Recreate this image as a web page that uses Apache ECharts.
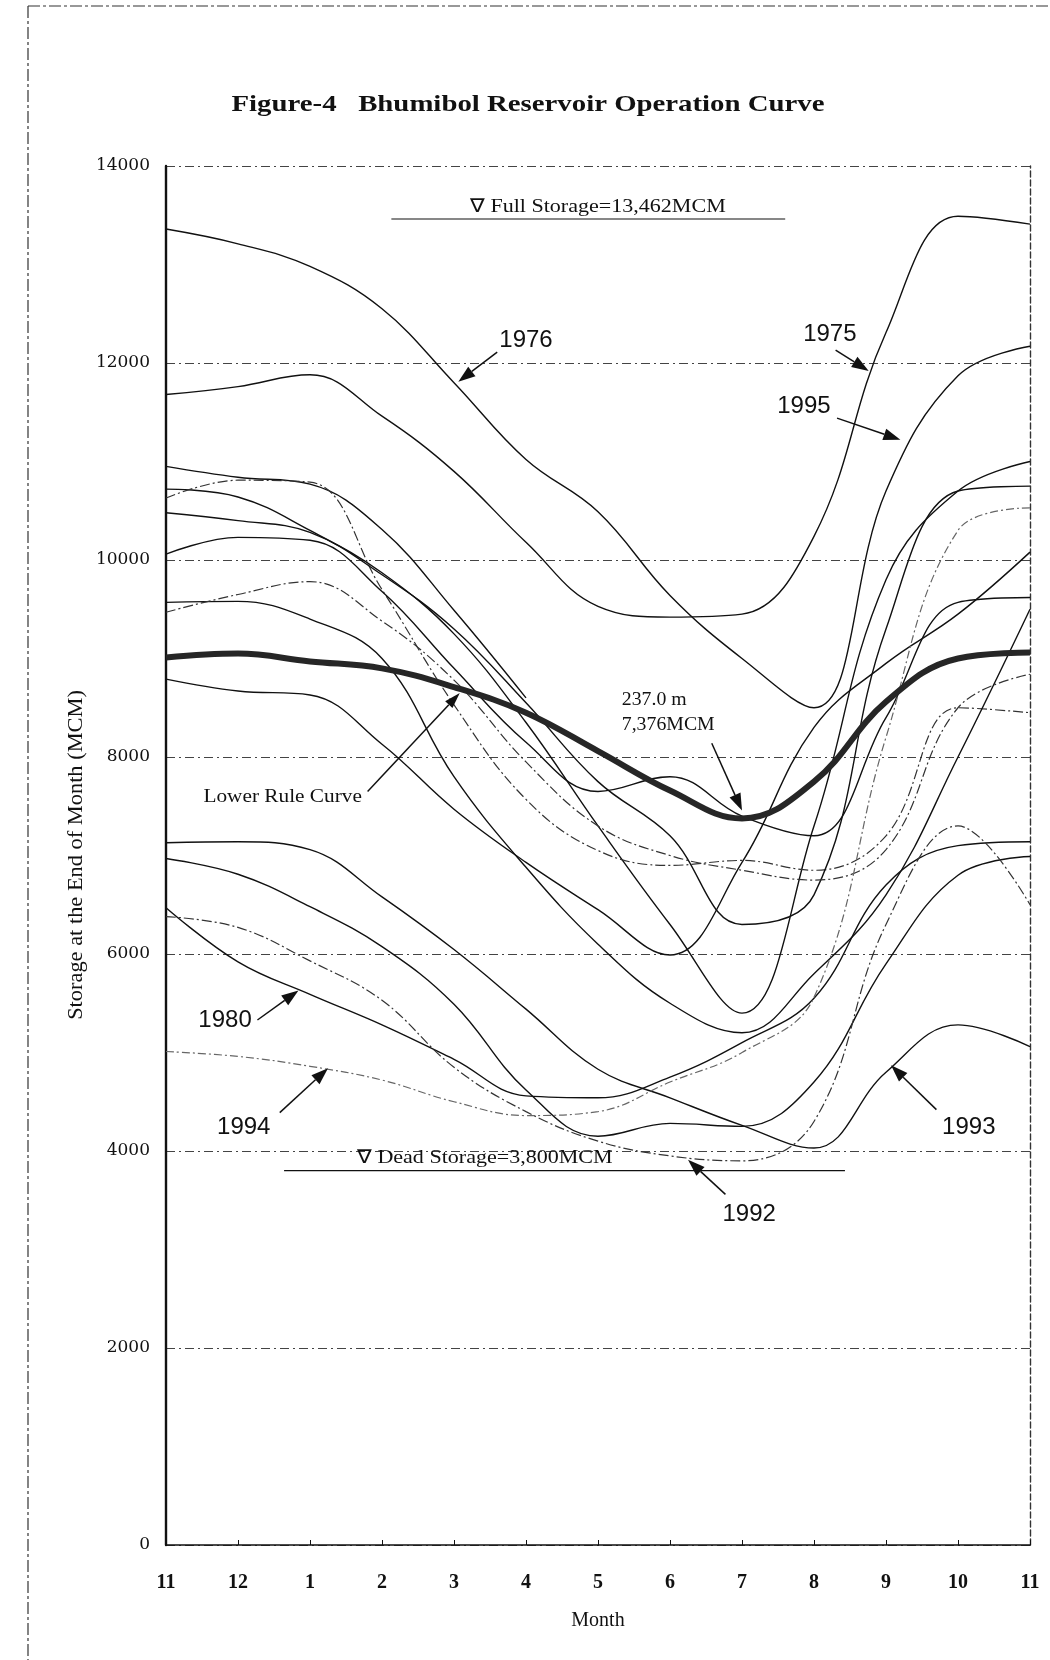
<!DOCTYPE html>
<html><head><meta charset="utf-8">
<script src="https://cdn.jsdelivr.net/npm/echarts/dist/echarts.min.js"></script>
<style>html,body{margin:0;padding:0;background:#fff}#c{width:1050px;height:1660px}</style>
</head><body><div id="c"></div>
<script>
// ---- data ----
const months = ['11','12','1','2','3','4','5','6','7','8','9','10','11'];
const yTickValues = [0,2000,4000,6000,8000,10000,12000,14000];
const ruleCurve = [9010, 9050, 8970, 8900, 8710, 8450, 8060, 7660, 7376, 7750, 8560, 9000, 9060];
const y1976 = [13360, 13210, 12980, 12550, 11800, 11020, 10490, 9640, 9000, 8500, 10700, 11870, 12170];
const y1975 = [11680, 11760, 11880, 11460, 10900, 10180, 9530, 9420, 9450, 10240, 12310, 13490, 13410];
const lineA = [10950, 10840, 10770, 10310, 9490, 8600];
const lineB = [10720, 10640, 10300, 9870, 9250, 8350, 7300, 6300, 5400, 7300, 9800, 10700, 11000];
const lineC = [10630, 10810, 10790, 9700, 8530, 7570, 7050, 6900, 6950, 6850, 7200, 8500, 8450];
const lineD = [10480, 10400, 10280, 9850, 9300, 8550, 7750, 7200, 6300, 6600, 9300, 10700, 10750];
const lineE = [10060, 10230, 10200, 9680, 8900, 8150, 7650, 7800, 7400, 7200, 8400, 9570, 9620];
const lineF = [9570, 9580, 9400, 9000, 7800, 6880, 6100, 5500, 5200, 5800, 6600, 8000, 9500];
const lineG = [9470, 9650, 9780, 9380, 8780, 7950, 7300, 7000, 6850, 6750, 7060, 8500, 8840];
const lineH = [8790, 8670, 8630, 8130, 7470, 6930, 6450, 5990, 6930, 8300, 8950, 9450, 10080];
const y1993 = [7130, 7140, 7060, 6580, 6045, 5440, 4830, 4540, 4260, 4030, 4800, 5280, 5060];
const lineJ = [6970, 6810, 6480, 6075, 5490, 4620, 4150, 4280, 4250, 4700, 5900, 6800, 6990];
const y1980 = [6470, 5920, 5590, 5280, 4930, 4560, 4540, 4750, 5100, 5550, 6700, 7100, 7140];
const y1992 = [6380, 6270, 5930, 5530, 4850, 4400, 4100, 3950, 3900, 4300, 6300, 7300, 6500];
const y1994 = [5010, 4960, 4860, 4720, 4500, 4360, 4400, 4700, 5000, 5560, 8200, 10300, 10530];
const fullStorage = 13462;
const deadStorage = 3800;
const ruleMin = 7376;

// ---- styles ----
const SOLID = {color:'#111', width:1.4, type:'solid'};
const DASH = {color:'#333', width:1.2, type:[10,3,2,3]};
const GREY = {color:'#666', width:1.2, type:[8,3,2,3]};
const seriesList = [
  ['1976', y1976, SOLID], ['1975', y1975, SOLID], ['A', lineA, SOLID],
  ['B', lineB, SOLID], ['C', lineC, DASH], ['D', lineD, SOLID], ['E', lineE, SOLID],
  ['F', lineF, SOLID], ['G', lineG, DASH], ['H', lineH, SOLID], ['1993', y1993, SOLID],
  ['J', lineJ, SOLID], ['1980', y1980, SOLID], ['1992', y1992, DASH], ['1994', y1994, GREY]
];
const toPairs = arr => arr.map((v,i)=>[i,v]);

const series = seriesList.map(([name, arr, st]) => ({
  name, type:'line', data: toPairs(arr), smooth:0.4, symbol:'none',
  lineStyle: st, z: 3, silent:true, animation:false
}));
series.push({name:'Lower Rule Curve', type:'line', data: toPairs(ruleCurve), smooth:0.4, symbol:'none',
  lineStyle:{color:'#262626', width:6}, z:4, silent:true, animation:false});

const SERIF = '"Liberation Serif","Times New Roman",serif';
const SANS = '"Liberation Sans",Arial,sans-serif';

const chart = echarts.init(document.getElementById('c'), null, {renderer:'canvas'});
chart.setOption({
  backgroundColor:'#fff',
  animation:false,
  grid:{left:166, right:20, top:166, bottom:115, containLabel:false},
  xAxis:{type:'value', min:0, max:12, interval:1,
    name:'Month', nameLocation:'middle', nameGap:66,
    nameTextStyle:{fontFamily:SERIF, fontSize:20, color:'#111'},
    axisLine:{show:true, lineStyle:{color:'#111', width:1.6}},
    axisTick:{show:true, inside:true, length:5, lineStyle:{color:'#111'}},
    axisLabel:{formatter: v => months[v], fontFamily:SERIF, fontSize:20, fontWeight:'bold', color:'#111', margin:28},
    splitLine:{show:false}},
  yAxis:[{type:'value', min:0, max:14000, interval:2000,
    axisLine:{show:true, lineStyle:{color:'#111', width:2.4}},
    axisTick:{show:false},
    axisLabel:{formatter: v => yTickValues.includes(v) ? String(v) : '', fontFamily:'"DejaVu Serif",serif', fontSize:17, color:'#111', margin:16},
    splitLine:{show:true, lineStyle:{color:'#444', width:1, type:[9,4,2,4]}}},
   {type:'value', min:0, max:14000, interval:2000, position:'right',
    axisLine:{show:true, lineStyle:{color:'#333', width:1.4, type:[6,3]}},
    axisTick:{show:false}, axisLabel:{show:false}, splitLine:{show:false}}],
  series
});

// ---- annotations (layout in data units) ----
const arrowNotes = [
  {text:'1976', at:[5.0,12230], from:[4.6,12110], to:[4.06,11810]},
  {text:'1975', at:[9.22,12290], from:[9.3,12130], to:[9.76,11920]},
  {text:'1995', at:[8.86,11560], from:[9.32,11440], to:[10.2,11220]},
  {text:'1980', at:[0.82,5330], from:[1.27,5330], to:[1.84,5630]},
  {text:'1994', at:[1.08,4240], from:[1.58,4390], to:[2.25,4840]},
  {text:'1993', at:[11.15,4240], from:[10.7,4420], to:[10.07,4870]},
  {text:'1992', at:[8.1,3360], from:[7.77,3560], to:[7.25,3910]}
];
const P = p => chart.convertToPixel({gridIndex:0}, p);
const g = [];
function arrow(a, b, len, hw) {
  const A = P(a), B = P(b);
  const dx = B[0]-A[0], dy = B[1]-A[1], L = Math.hypot(dx,dy);
  const ux = dx/L, uy = dy/L, nx = -uy, ny = ux;
  const bx = B[0]-ux*len, by = B[1]-uy*len;
  g.push({type:'line', shape:{x1:A[0], y1:A[1], x2:bx, y2:by}, style:{stroke:'#111', lineWidth:1.5}, z:20});
  g.push({type:'polygon', shape:{points:[[B[0],B[1]],[bx+nx*hw,by+ny*hw],[bx-nx*hw,by-ny*hw]]}, style:{fill:'#111'}, z:20});
}
function textAt(t, x, y, font, align, sx, rot) {
  g.push({type:'text', x, y, z:21, scaleX: sx||1, rotation: rot||0,
    style:{text:t, font, fill:'#111', textAlign:align||'center', textVerticalAlign:'middle', align:align||'center', verticalAlign:'middle'}});
}
function text(t, p, font, align, sx) { const q = P(p); textAt(t, q[0], q[1], font, align, sx); }
arrowNotes.forEach(n => { arrow(n.from, n.to, 17, 6); text(n.text, n.at, '24px '+SANS); });
// lower rule curve
arrow([2.8,7650], [4.08,8650], 16, 5);
text('Lower Rule Curve', [1.62,7590], '19px '+SERIF, 'center', 1.12);
// min point
text('237.0 m', [6.33,8580], '18px '+SERIF, 'left', 1.1);
text('7,376MCM', [6.33,8320], '18px '+SERIF, 'left', 1.1);
arrow([7.58,8140], [8.0,ruleMin+80], 17, 6);
// full / dead storage
function hline(v, i1, i2) {
  const A = P([i1, v]), B = P([i2, v]);
  g.push({type:'line', shape:{x1:A[0], y1:A[1], x2:B[0], y2:B[1]}, style:{stroke:'#111', lineWidth:1.2}, z:20});
}
hline(fullStorage, 3.13, 8.6);
text('\u2207 Full Storage=13,462MCM', [4.22,fullStorage+120], '19px '+SERIF, 'left', 1.16);
hline(deadStorage, 1.64, 9.43);
text('\u2207 Dead Storage=3,800MCM', [2.65,deadStorage+125], '19px '+SERIF, 'left', 1.16);
// title
textAt('Figure-4   Bhumibol Reservoir Operation Curve', 528, 105, 'bold 24px '+SERIF, 'center', 1.2);
// y axis name
textAt('Storage at the End of Month (MCM)', 77, 855, '20px '+SERIF, 'center', 1.12, Math.PI/2);
// page border
g.push({type:'line', shape:{x1:28, y1:6, x2:1050, y2:6}, style:{stroke:'#333', lineWidth:1.2, lineDash:[12,3,3,3]}, z:1});
g.push({type:'line', shape:{x1:28, y1:6, x2:28, y2:1660}, style:{stroke:'#333', lineWidth:1.2, lineDash:[12,3,3,3]}, z:1});
chart.setOption({graphic: g});
</script>
</body></html>
